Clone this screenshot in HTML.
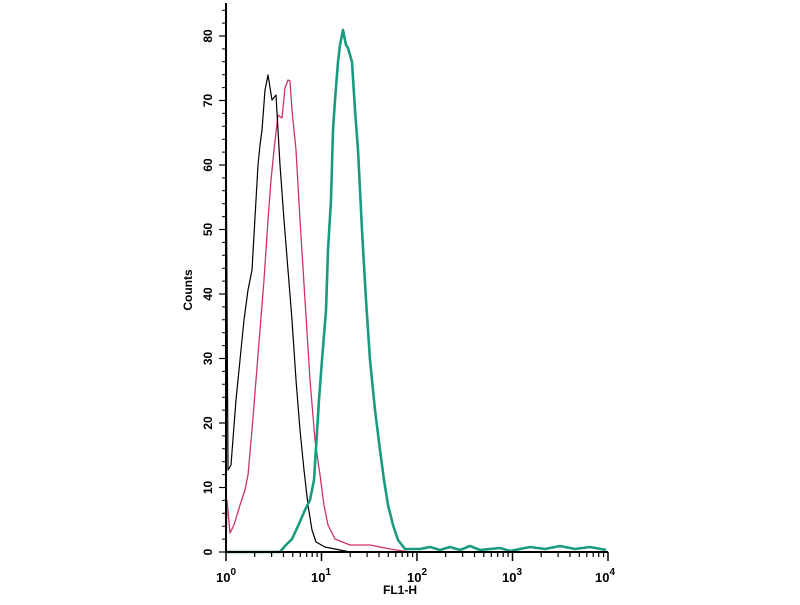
<!DOCTYPE html>
<html><head><style>body{margin:0;background:#fff}</style></head><body>
<svg width="800" height="600" xmlns="http://www.w3.org/2000/svg" font-family="Liberation Sans, sans-serif">
<rect width="800" height="600" fill="#fff"/>
<g fill="none" stroke-linejoin="round">
<polyline stroke="#d0306e" stroke-width="1.3" points="226,552 227,500 230,533 234,525 240,505 245,490 248,475 252,430 256,380 260,330 264,280 268,220 271,180 274,150 278,115 282,118 285,88 288,80 290,81 292,110 296,150 300,220 305,300 310,380 315,440 320,475 324,505 328,525 335,539 350,545 370,545 390,549 410,552"/>
<polyline stroke="#000" stroke-width="1.2" points="226,552 226,120 228,470 231,465 236,400 240,360 244,320 248,290 252,270 256,200 258,165 260,145 262,130 265,90 268,75 272,100 276,95 278,130 280,165 284,220 288,270 292,320 296,380 300,430 304,470 308,505 312,530 316,542 325,547 340,550 350,552"/>
<polyline stroke="#1a9a80" stroke-width="2.6" points="226,552 280,552 285,546 292,539 298,526 305,510 310,500 314,480 319,400 322,360 326,310 328,250 331,200 333,130 335,100 338,62 340,45 343,30 346,45 348,48 352,62 355,110 358,150 362,230 366,300 370,360 375,410 380,450 384,480 388,505 393,525 398,540 405,549 420,549 430,547 440,550 450,547 460,550 470,546 480,550 500,548 510,551 530,547 545,549 560,546 575,549 590,547 606,550"/>
</g>
<g stroke="#000" stroke-width="2" fill="none">
<line x1="226" y1="3" x2="226" y2="553"/>
<line x1="225" y1="552" x2="608" y2="552"/>
</g>
<g stroke="#000" stroke-width="1.2">
<line x1="219" y1="552" x2="226" y2="552"/><line x1="219" y1="487.5" x2="226" y2="487.5"/><line x1="219" y1="423" x2="226" y2="423"/><line x1="219" y1="358.5" x2="226" y2="358.5"/><line x1="219" y1="294" x2="226" y2="294"/><line x1="219" y1="229.5" x2="226" y2="229.5"/><line x1="219" y1="165" x2="226" y2="165"/><line x1="219" y1="100.5" x2="226" y2="100.5"/><line x1="219" y1="36" x2="226" y2="36"/>
</g>
<g stroke="#000" stroke-width="1">
<path d="M222 539.1H226M222 526.2H226M222 513.3H226M222 500.4H226M222 474.6H226M222 461.7H226M222 448.8H226M222 435.9H226M222 410.1H226M222 397.2H226M222 384.3H226M222 371.4H226M222 345.6H226M222 332.7H226M222 319.8H226M222 306.9H226M222 281.1H226M222 268.2H226M222 255.3H226M222 242.4H226M222 216.6H226M222 203.7H226M222 190.8H226M222 177.9H226M222 152.1H226M222 139.2H226M222 126.3H226M222 113.4H226M222 87.6H226M222 74.7H226M222 61.8H226M222 48.9H226M222 23.1H226M222 10.2H226"/>
</g>
<g stroke="#000" stroke-width="1.5">
<path d="M226 552V561M321.5 552V561M417 552V561M512.5 552V561M608 552V561"/>
</g>
<g stroke="#000" stroke-width="1.2">
<path d="M254.7 552V557M271.6 552V557M283.5 552V557M292.8 552V557M300.3 552V557M306.7 552V557M312.2 552V557M317.1 552V557
M350.2 552V557M367.1 552V557M379 552V557M388.3 552V557M395.8 552V557M402.2 552V557M407.7 552V557M412.6 552V557
M445.7 552V557M462.6 552V557M474.5 552V557M483.8 552V557M491.3 552V557M497.7 552V557M503.2 552V557M508.1 552V557
M541.2 552V557M558.1 552V557M570 552V557M579.3 552V557M586.8 552V557M593.2 552V557M598.7 552V557M603.6 552V557"/>
</g>
<g font-size="12" font-weight="bold" fill="#000" text-anchor="middle">
<text transform="translate(208,552) rotate(-90)" dy="4">0</text>
<text transform="translate(208,487.5) rotate(-90)" dy="4">10</text>
<text transform="translate(208,423) rotate(-90)" dy="4">20</text>
<text transform="translate(208,358.5) rotate(-90)" dy="4">30</text>
<text transform="translate(208,294) rotate(-90)" dy="4">40</text>
<text transform="translate(208,229.5) rotate(-90)" dy="4">50</text>
<text transform="translate(208,165) rotate(-90)" dy="4">60</text>
<text transform="translate(208,100.5) rotate(-90)" dy="4">70</text>
<text transform="translate(208,36) rotate(-90)" dy="4">80</text>
<text transform="translate(188,290) rotate(-90)" dy="4">Counts</text>
<text x="400" y="594">FL1-H</text>
</g>
<g font-size="13" font-weight="bold" fill="#000">
<text x="216" y="582">10<tspan font-size="10" dy="-7">0</tspan></text>
<text x="311" y="582">10<tspan font-size="10" dy="-7">1</tspan></text>
<text x="407" y="582">10<tspan font-size="10" dy="-7">2</tspan></text>
<text x="502" y="582">10<tspan font-size="10" dy="-7">3</tspan></text>
<text x="595" y="582">10<tspan font-size="10" dy="-7">4</tspan></text>
</g>
</svg>
</body></html>
